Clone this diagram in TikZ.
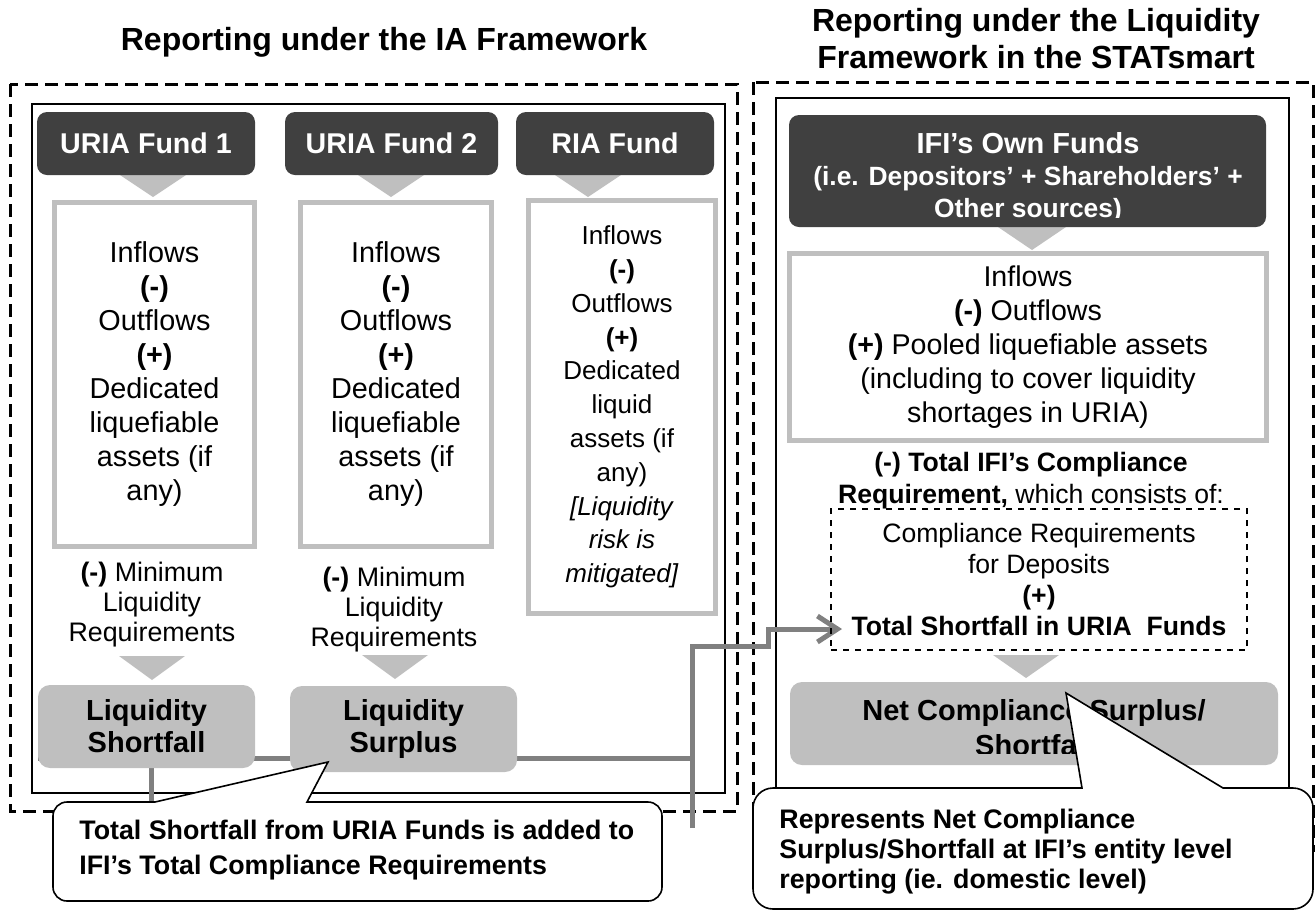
\documentclass[tikz,border=0pt]{standalone}
\usepackage{fontspec}
\setmainfont{Liberation Sans}
\usetikzlibrary{arrows.meta}
\definecolor{headgray}{HTML}{404040}
\definecolor{boxgray}{HTML}{BFBFBF}
\definecolor{linkgray}{HTML}{808080}

\begin{document}
\begin{tikzpicture}[x=0.5pt, y=-0.5pt, >={Straight Barb[length=10pt,width=13pt]},
  fundhead/.style={fill=headgray, text=white, rounded corners=5pt, inner sep=0pt, align=center, font=\bfseries\fontsize{14.3}{17}\selectfont},
  flowbox/.style={draw=boxgray, line width=2.5pt, fill=white, inner sep=0pt, align=center, font=\fontsize{14.4}{17}\selectfont},
  resultbox/.style={fill=boxgray, rounded corners=6pt, inner sep=0pt, align=center, font=\bfseries\fontsize{14.5}{16}\selectfont},
  dashframe/.style={draw, dash pattern=on 6.5pt off 3.5pt, line width=1.5pt},
  solidframe/.style={draw, line width=1pt},
  link/.style={draw=linkgray, line width=2.5pt},
  callout/.style={draw, fill=white, line width=0.8pt},
  plain/.style={align=center, inner sep=0pt, font=\fontsize{13.4}{15}\selectfont},
  notetext/.style={align=left, inner sep=0pt, anchor=west, font=\bfseries\fontsize{13.4}{17.5}\selectfont},
  ]
  \useasboundingbox (0,0) rectangle (1315,911);
  % titles
  \node[font=\bfseries\fontsize{16}{18.5}\selectfont] (titleIA) at (384,42) {Reporting under the IA Framework};
  \node[font=\bfseries\fontsize{16}{18.5}\selectfont, align=center] (titleLQ) at (1036,39) {Reporting under the Liquidity\\Framework in the STATsmart};
  % frames
  \draw[dashframe] (10,84) rectangle (737,811);
  \draw[solidframe] (32,104) rectangle (725,793);
  \draw[dashframe] (753,82) rectangle (1313,850);
  \draw[solidframe] (776,98) rectangle (1289,850);
  % pointers between boxes
  \foreach \cx/\ty/\hw/\h in {153/175/33/22, 391/175/33/22, 588/175/33/22, 152/656/33/24, 395/655/33/24, 1032/227/34/23, 1026/655/33/23}
    \fill[boxgray] (\cx-\hw,\ty) -- (\cx+\hw,\ty) -- (\cx,\ty+\h) -- cycle;
  % IA funds
  \node[fundhead, minimum width=109pt, minimum height=31.5pt] (uria1) at (146,143.5) {URIA Fund 1};
  \node[fundhead, minimum width=106.5pt, minimum height=31.5pt] (uria2) at (391.5,143.5) {URIA Fund 2};
  \node[fundhead, minimum width=99pt, minimum height=31.5pt] (ria) at (615,143.5) {RIA Fund};
  \foreach \n/\cx/\w in {uriaflow1/154.5/100, uriaflow2/396/95.5}
    \node[flowbox, minimum width=\w pt, minimum height=172pt] (\n) at (\cx,374)
      {Inflows\\\textbf{(-)}\\Outflows\\\textbf{(+)}\\Dedicated\\liquefiable\\assets (if\\any)};
  \node[flowbox, minimum width=93.5pt, minimum height=206.5pt, font=\fontsize{13}{16.9}\selectfont] (riaflow) at (622,407)
    {Inflows\\\textbf{(-)}\\Outflows\\\textbf{(+)}\\Dedicated\\liquid\\assets (if\\any)\\\textit{[Liquidity}\\\textit{risk is}\\\textit{mitigated]}};
  \node[plain] (minliq1) at (152,605) {\textbf{(-)} Minimum\\Liquidity\\Requirements};
  \node[plain] (minliq2) at (394,610) {\textbf{(-)} Minimum\\Liquidity\\Requirements};
  % connectors
  \coordinate (busJoin) at (692,758);
  \coordinate (busTop) at (692,646);
  \coordinate (busEnd) at (692,828);
  \coordinate (stepUp) at (768,646);
  \coordinate (arrowIn) at (842,629);
  \coordinate (shortDrop) at (151,802);
  \draw[link] (38,758) -- (busJoin);
  \draw[link] (shortDrop |- 0,760) -- (shortDrop);
  \draw[link, ->] (busEnd) -- (busTop) -- (stepUp) -- (stepUp |- arrowIn) -- (arrowIn);
  \node[resultbox, minimum width=108.5pt, minimum height=41.5pt] (shortfall) at (146.5,726.5) {Liquidity\\Shortfall};
  \node[resultbox, minimum width=113.5pt, minimum height=43pt] (surplus) at (403.5,729) {Liquidity\\Surplus};
  % own funds side
  \node[fundhead, minimum width=238.5pt, minimum height=56pt] (ownfunds) at (1027.5,171) {};
  \begin{scope}
    \clip (789,115) rectangle (1266,217);
    \node[text=white, align=center, inner sep=0pt, font=\bfseries\fontsize{13.2}{16}\selectfont] (ownfundstext) at (1028,178)
      {{\fontsize{14.5}{16}\selectfont IFI’s Own Funds}\\(i.e. Depositors’ + Shareholders’ +\\Other sources)};
  \end{scope}
  \node[flowbox, minimum width=238.5pt, minimum height=93.5pt, font=\fontsize{14.3}{16.9}\selectfont] (ownflow) at (1028,347)
    {Inflows\\\textbf{(-)} Outflows\\\textbf{(+)} Pooled liquefiable assets\\(including to cover liquidity\\shortages in URIA)};
  \node[plain, font=\fontsize{13.3}{16}\selectfont] (compltext) at (1031,481)
    {\textbf{(-) Total IFI’s Compliance}\\\textbf{Requirement,} which consists of:};
  \node[draw, dashed, line width=0.6pt, minimum width=208pt, minimum height=70.5pt, inner sep=0pt, align=center, font=\fontsize{13.3}{15.5}\selectfont] (compbox) at (1039,579.5)
    {Compliance Requirements\\for Deposits\\\textbf{(+)}\\\textbf{Total Shortfall in URIA\ \ Funds}};
  \node[resultbox, minimum width=244pt, minimum height=41.5pt] (netbox) at (1034,723.5) {};
  \begin{scope}
    \clip (790,682) rectangle (1278,753);
    \node[align=center, inner sep=0pt, font=\bfseries\fontsize{14.5}{17.5}\selectfont] (nettext) at (1034,727.5) {Net Compliance Surplus/\\Shortfall};
  \end{scope}
  % callouts
  \draw[callout] (328,762) -- (307,802) [rounded corners=7pt] -- (662,802) -- (662,901) -- (53,901) -- (53,802) [sharp corners] -- (155,802) -- cycle;
  \node[notetext] (noteIA) at (79,850.5) {Total Shortfall from URIA Funds is added to\\IFI’s Total Compliance Requirements};
  \draw[callout] (1066,693) -- (1223,788) [rounded corners=10pt] -- (1313,788) -- (1313,909) -- (753,909) -- (753,788) [sharp corners] -- (1082,788) -- cycle;
  \node[notetext, font=\bfseries\fontsize{13.4}{15}\selectfont] (noteLQ) at (779,852) {Represents Net Compliance\\Surplus/Shortfall at IFI’s entity level\\reporting (ie. domestic level)};
\end{tikzpicture}
\end{document}
